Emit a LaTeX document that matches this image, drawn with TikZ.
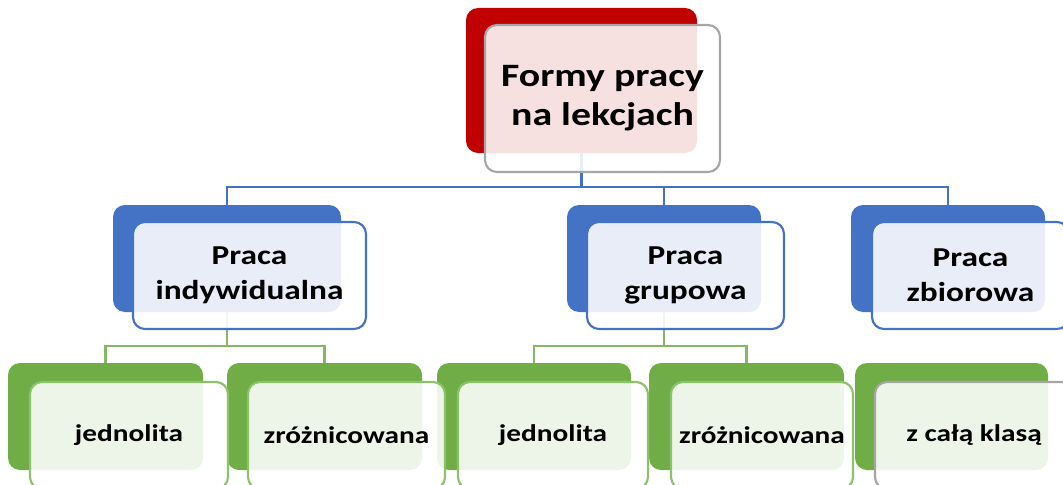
\documentclass[tikz,border=0pt]{standalone}
\usepackage{fontspec}
\setmainfont{Carlito}[FakeStretch=1.22]
\definecolor{redbox}{HTML}{C00000}
\definecolor{bluebox}{HTML}{4472C4}
\definecolor{greenbox}{HTML}{70AD47}
\definecolor{greenline}{HTML}{8DC26B}
\definecolor{grayline}{HTML}{A6A6A6}
\begin{document}
\begin{tikzpicture}[x=0.75pt,y=-0.75pt,
    back/.style={rectangle,rounded corners=9pt,inner sep=0pt,minimum height=80.25pt},
    front/.style={rectangle,rounded corners=9pt,inner sep=0pt,minimum height=80.25pt,
      fill=white,fill opacity=0.88,text opacity=1,line width=1.6pt,align=center},
    lvlone/.style={font=\bfseries\fontsize{24.5}{29.5}\selectfont},
    lvltwo/.style={font=\bfseries\fontsize{20.5}{26}\selectfont},
    lvlthree/.style={font=\bfseries\fontsize{18}{22}\selectfont},
    blueconn/.style={draw=bluebox,line width=1.8pt},
    greenconn/.style={draw=greenbox!85!white,line width=1.8pt}]
  \useasboundingbox (0,0) rectangle (1063,485);
  % back boxes
  \node[back,fill=redbox,minimum width=173.25pt,minimum height=108.75pt] (topb) at (581.5,80.5) {};
  \node[back,fill=bluebox,minimum width=171pt] (indb) at (227,258.5) {};
  \node[back,fill=bluebox,minimum width=145.5pt] (grpb) at (664,258.5) {};
  \node[back,fill=bluebox,minimum width=145.5pt] (zbb) at (948,258.5) {};
  \node[back,fill=greenbox,minimum width=146.25pt] (jedib) at (105.5,416.5) {};
  \node[back,fill=greenbox,minimum width=146.25pt] (zrib) at (324.5,416.5) {};
  \node[back,fill=greenbox,minimum width=145.5pt] (jedgb) at (534,416.5) {};
  \node[back,fill=greenbox,minimum width=146.25pt] (zrgb) at (746.5,416.5) {};
  \node[back,fill=greenbox,minimum width=144.75pt] (klb) at (951.5,416.5) {};
  % connectors
  \coordinate (bus) at (581.5,187);
  \draw[blueconn] (topb.south) -- (bus) -| (indb.north);
  \draw[blueconn] (bus) -| (grpb.north);
  \draw[blueconn] (bus) -| (zbb.north);
  \coordinate (busind) at (227,346);
  \draw[greenconn] (indb.south) -- (busind) -| (jedib.north);
  \draw[greenconn] (busind) -| (zrib.north);
  \coordinate (busgrp) at (664,346);
  \draw[greenconn] (grpb.south) -- (busgrp) -| (jedgb.north);
  \draw[greenconn] (busgrp) -| (zrgb.north);
  % front boxes
  \node[front,lvlone,draw=grayline,minimum width=176.25pt,minimum height=110.25pt] (top) at (602.5,98.5) {Formy pracy\\na lekcjach};
  \node[front,lvltwo,draw=bluebox,minimum width=174.75pt] (ind) at (249.5,275.5) {Praca\\indywidualna};
  \node[front,lvltwo,draw=bluebox,minimum width=147.75pt] (grp) at (685.5,275.5) {Praca\\grupowa};
  \node[front,lvltwo,draw=bluebox,minimum width=147.75pt] (zb) at (970.5,275.5) {Praca\\zbiorowa};
  \node[front,lvlthree,draw=greenline,minimum width=148.5pt] (jedi) at (129,435.5) {jednolita};
  \node[front,lvlthree,draw=greenline,minimum width=147.75pt] (zri) at (346.5,435.5) {zróżnicowana};
  \node[front,lvlthree,draw=greenline,minimum width=142.5pt] (jedg) at (553,435.5) {jednolita};
  \node[front,lvlthree,draw=greenline,minimum width=136.5pt] (zrg) at (762,435.5) {zróżnicowana};
  \node[front,lvlthree,draw=grayline,minimum width=148.5pt] (kl) at (974,435.5) {z całą klasą};
\end{tikzpicture}
\end{document}
